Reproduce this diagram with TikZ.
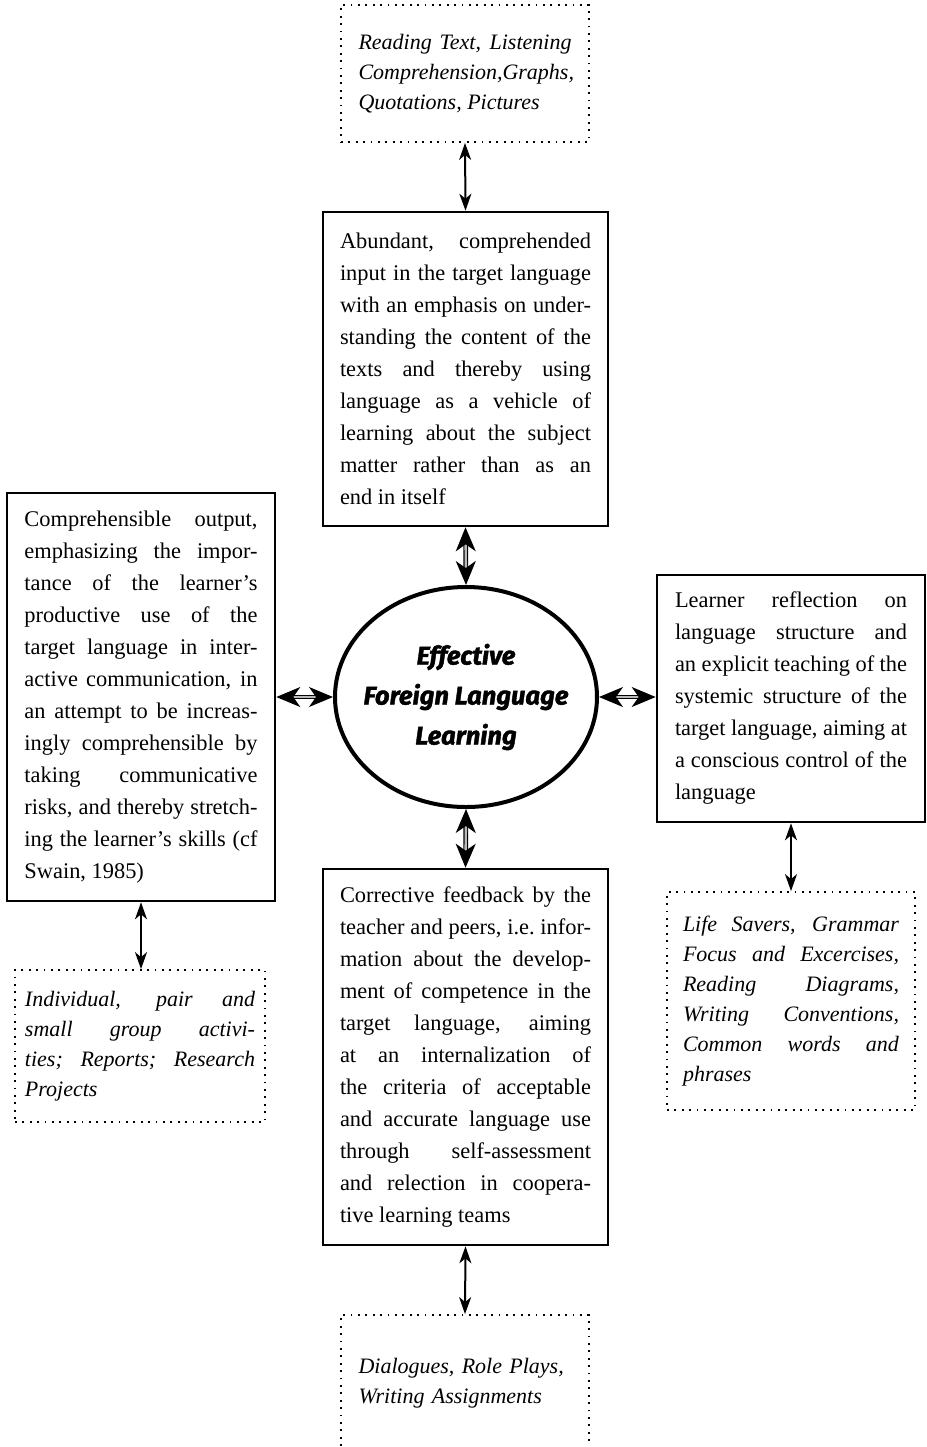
\documentclass[tikz,border=0pt]{standalone}
\usepackage{fontspec}
\setmainfont{Liberation Serif}
\newfontfamily\titlefont{Fira Sans}[BoldItalicFeatures={FakeBold=1.6}]
\usetikzlibrary{arrows.meta,shapes.geometric}

\tolerance=9999
\hbadness=10000
\hfuzz=6pt

\tikzstyle{mainbox} = [draw, line width=1.3pt, inner xsep=0pt, align=justify,
    font=\fontsize{11.2}{16}\selectfont]
\tikzstyle{notebox} = [draw, line width=0.9pt, dash pattern=on 0.9pt off 2.8pt,
    inner xsep=0pt, align=justify, font=\fontsize{11}{15}\selectfont\itshape]
\tikzstyle{sarrow} = [{Stealth[length=8.5pt,width=6pt,inset=2.5pt]}-{Stealth[length=8.5pt,width=6pt,inset=2.5pt]},
    line width=1pt]
\tikzstyle{darrow} = [{Stealth[length=12pt,width=10pt,inset=3.5pt]}-{Stealth[length=12pt,width=10pt,inset=3.5pt]},
    line width=0.6pt, double=gray!55, double distance=1.2pt]

\begin{document}
\begin{tikzpicture}[x=0.5pt,y=-0.5pt]
                \useasboundingbox (0,0) rectangle (927,1447);
                % centre
                \node[draw, ellipse,
                    line width=2pt,
                    minimum width=131pt,
                    minimum height=110pt,
                    inner sep=0pt] (core) at (466,697) {};
                \node[align=center,
                    font=\titlefont\bfseries\itshape\fontsize{12.8}{20}\selectfont] (title) at (core.center)
                    {Effective\\Foreign Language\\Learning};
                % four main boxes
                \node[mainbox,
                    minimum width=142.5pt,
                    minimum height=157pt,
                    text width=125.5pt] (inputbox) at (465.5,369)
                    {Abundant, comprehended\linebreak input in the target language\linebreak
                    with an emphasis on under-\linebreak standing the content of the\linebreak
                    texts and thereby using\linebreak language as a vehicle of\linebreak
                    learning about the subject\linebreak matter rather than as an\linebreak
                    end in itself};
                \node[mainbox,
                    minimum width=134pt,
                    minimum height=204pt,
                    text width=116.5pt] (outputbox) at (141,697)
                    {Comprehensible output,\linebreak emphasizing the impor-\linebreak
                    tance of the learner's\linebreak productive use of the\linebreak
                    target language in inter-\linebreak active communication, in\linebreak
                    an attempt to be increas-\linebreak ingly comprehensible by\linebreak
                    taking communicative\linebreak risks, and thereby stretch-\linebreak
                    ing the learner's skills (cf\linebreak Swain, 1985)};
                \node[mainbox,
                    minimum width=134pt,
                    minimum height=123.5pt,
                    text width=116pt] (reflectbox) at (791,698.5)
                    {Learner reflection on\linebreak language structure and\linebreak
                    an explicit teaching of the\linebreak systemic structure of the\linebreak
                    target language, aiming at\linebreak a conscious control of the\linebreak
                    language};
                \node[mainbox,
                    minimum width=142.5pt,
                    minimum height=188pt,
                    text width=125.5pt] (feedbackbox) at (465.5,1057)
                    {Corrective feedback by the\linebreak teacher and peers, i.e.\ infor-\linebreak
                    mation about the develop-\linebreak ment of competence in the\linebreak
                    target language, aiming\linebreak at an internalization of\linebreak
                    the criteria of acceptable\linebreak and accurate language use\linebreak
                    through self-assessment\linebreak and relection in coopera-\linebreak
                    tive learning teams};
                % dotted boxes with materials
                \node[notebox,
                    minimum width=124pt,
                    minimum height=68.5pt,
                    text width=106.5pt] (inputnote) at (465,73.5)
                    {Reading Text, Listening\linebreak Comprehension,Graphs,\linebreak
                    Quotations, Pictures};
                \node[notebox,
                    minimum width=125pt,
                    minimum height=76pt,
                    text width=115pt] (outputnote) at (140,1046)
                    {Individual, pair and\linebreak small group activi-\linebreak
                    ties; Reports; Research\linebreak Projects};
                \node[notebox,
                    minimum width=124pt,
                    minimum height=109pt,
                    text width=108pt] (reflectnote) at (791,1001)
                    {Life Savers, Grammar\linebreak Focus and Excercises,\linebreak
                    Reading Diagrams,\linebreak Writing Conventions,\linebreak
                    Common words and\linebreak phrases};
                \node[notebox,
                    align=left,
                    minimum width=124pt,
                    minimum height=68.5pt,
                    text width=106.5pt] (feedbacknote) at (465,1383.5)
                    {Dialogues, Role Plays,\\ Writing Assignments};
                % Draw edges
                \draw[darrow] (inputbox.south) -- (core.north);
                \draw[darrow] (outputbox.east) -- (core.west);
                \draw[darrow] (core.east) -- (core.east -| reflectbox.west);
                \draw[darrow] (core.south) -- (feedbackbox.north);
                \draw[sarrow] (inputnote.south) -- (inputbox.north);
                \draw[sarrow] (outputbox.south) -- (outputbox.south |- outputnote.north);
                \draw[sarrow] (reflectbox.south) -- (reflectnote.north);
                \draw[sarrow] (feedbackbox.south) -- (feedbacknote.north);
        \end{tikzpicture}
\end{document}
